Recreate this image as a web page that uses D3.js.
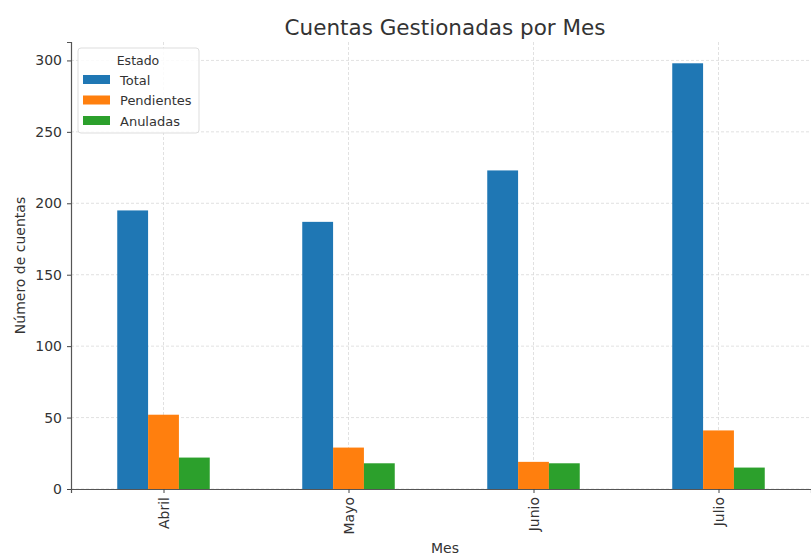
<!DOCTYPE html>
<html>
<head>
<meta charset="utf-8">
<script src="https://cdn.jsdelivr.net/npm/d3@7"></script>
<style>
  body { margin: 0; background: #fff; }
  svg { font-family: "DejaVu Sans", sans-serif; }
</style>
</head>
<body>
<div class="chart"></div>
<script>
// data
var months = ["Abril", "Mayo", "Junio", "Julio"];
var series = ["Total", "Pendientes", "Anuladas"];
var total = [195, 187, 223, 298];
var pendientes = [52, 29, 19, 41];
var anuladas = [22, 18, 18, 15];
var yTicks = [0, 50, 100, 150, 200, 250, 300];

var colors = d3.scaleOrdinal()
    .domain(series)
    .range(["#1f77b4", "#ff7f0e", "#2ca02c"]);

var rows = months.map(function(m, i) {
    return {month: m, Total: total[i], Pendientes: pendientes[i], Anuladas: anuladas[i]};
});

var width = 811, height = 556;
var margin = {top: 42, left: 71, bottom: 67};
var plotRight = 811;

var svg = d3.select(".chart")
    .append("svg")
    .attr("width", width)
    .attr("height", height);

// pandas style: categories at 0..n-1, limits -0.5..n-0.5
var x = d3.scaleLinear()
    .domain([-0.5, months.length - 0.5])
    .range([margin.left, plotRight]);

var y = d3.scaleLinear()
    .domain([0, d3.max(total) * 1.05])
    .range([height - margin.bottom, margin.top]);

var barW = 0.5 / series.length;

// grid
svg.append("g")
    .selectAll("line")
    .data(yTicks)
    .enter()
    .append("line")
    .attr("x1", margin.left)
    .attr("x2", plotRight)
    .attr("y1", function(d) { return y(d); })
    .attr("y2", function(d) { return y(d); })
    .attr("stroke", "#d9d9d9")
    .attr("stroke-width", 0.8)
    .attr("stroke-dasharray", "3,2");

svg.append("g")
    .selectAll("line")
    .data(months)
    .enter()
    .append("line")
    .attr("x1", function(d, i) { return x(i); })
    .attr("x2", function(d, i) { return x(i); })
    .attr("y1", margin.top)
    .attr("y2", height - margin.bottom)
    .attr("stroke", "#d9d9d9")
    .attr("stroke-width", 0.8)
    .attr("stroke-dasharray", "3,2");

// bars
series.forEach(function(s, j) {
    svg.append("g")
        .selectAll("rect")
        .data(rows)
        .enter()
        .append("rect")
        .attr("x", function(d, i) { return x(i - 0.25 + j * barW); })
        .attr("width", x(barW) - x(0))
        .attr("y", function(d) { return y(d[s]); })
        .attr("height", function(d) { return y(0) - y(d[s]); })
        .attr("fill", colors(s));
});

// axes
var yAxis = svg.append("g")
    .attr("transform", "translate(" + margin.left + ",0)")
    .call(d3.axisLeft(y).tickValues(yTicks).tickSize(4).tickPadding(5));

var xAxis = svg.append("g")
    .attr("transform", "translate(0," + (height - margin.bottom) + ")")
    .call(d3.axisBottom(x).tickValues(d3.range(months.length))
        .tickFormat(function(d) { return months[d]; })
        .tickSize(4).tickPadding(5));

[xAxis, yAxis].forEach(function(a) {
    a.select(".domain").attr("stroke", "#555").attr("stroke-width", 1.2);
    a.selectAll(".tick line").attr("stroke", "#444");
    a.selectAll(".tick text").attr("fill", "#333").attr("font-size", 14)
        .attr("font-family", "DejaVu Sans");
});

xAxis.selectAll(".tick text")
    .attr("transform", "rotate(-90)")
    .attr("text-anchor", "end")
    .attr("x", -8)
    .attr("y", 0)
    .attr("dy", "0.35em");

// titles
svg.append("text")
    .attr("x", 445)
    .attr("y", 35)
    .attr("text-anchor", "middle")
    .attr("font-size", 21.5)
    .attr("fill", "#333")
    .text("Cuentas Gestionadas por Mes");

svg.append("text")
    .attr("x", 445)
    .attr("y", 553)
    .attr("text-anchor", "middle")
    .attr("font-size", 14)
    .attr("fill", "#333")
    .text("Mes");

svg.append("text")
    .attr("transform", "translate(25," + ((margin.top + height - margin.bottom) / 2) + ") rotate(-90)")
    .attr("text-anchor", "middle")
    .attr("font-size", 14)
    .attr("fill", "#333")
    .text("Número de cuentas");

// legend
var lg = svg.append("g").attr("transform", "translate(78,48)");
lg.append("rect")
    .attr("width", 121)
    .attr("height", 85)
    .attr("rx", 3)
    .attr("fill", "#fff")
    .attr("fill-opacity", 0.85)
    .attr("stroke", "#ddd");
lg.append("text")
    .attr("x", 60)
    .attr("y", 17)
    .attr("text-anchor", "middle")
    .attr("font-size", 12.5)
    .attr("fill", "#333")
    .text("Estado");
for (let i = 0; i < series.length; i++) {
    lg.append("rect")
        .attr("x", 5)
        .attr("y", 27 + 20.5 * i)
        .attr("width", 27)
        .attr("height", 9)
        .attr("fill", colors(series[i]));
    lg.append("text")
        .attr("x", 42)
        .attr("y", 36.5 + 20.5 * i)
        .attr("font-size", 13)
        .attr("fill", "#333")
        .text(series[i]);
}
</script>
</body>
</html>
